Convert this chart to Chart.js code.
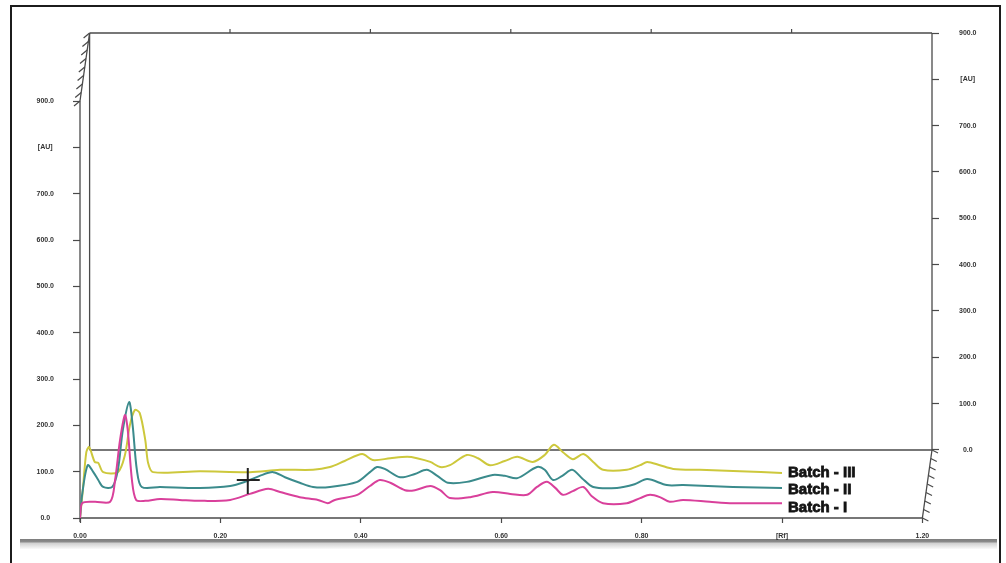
<!DOCTYPE html>
<html>
<head>
<meta charset="utf-8">
<script src="https://cdn.jsdelivr.net/npm/chart.js@4"></script>
<style>
html, body { margin: 0; padding: 0; background: #fff; }
</style>
</head>
<body>
<canvas id="chart" width="1006" height="563"></canvas>
<script>
// tick values and labels
const rfTicks = [0, 0.2, 0.4, 0.6, 0.8, 1.0, 1.2];
const rfLabels = ['0.00', '0.20', '0.40', '0.60', '0.80', '[Rf]', '1.20'];
const auTicks = [0, 100, 200, 300, 400, 500, 600, 700, 800, 900];

// Batch I (magenta)
const rfBatch1 = [0, 0.003, 0.021, 0.043, 0.050, 0.057, 0.064, 0.068, 0.074, 0.080, 0.093, 0.114, 0.142, 0.171, 0.214, 0.242, 0.268, 0.285, 0.313, 0.339, 0.353, 0.363, 0.395, 0.413, 0.427, 0.442, 0.463, 0.477, 0.499, 0.513, 0.527, 0.556, 0.588, 0.613, 0.637, 0.651, 0.665, 0.677, 0.688, 0.702, 0.717, 0.729, 0.745, 0.779, 0.798, 0.812, 0.826, 0.840, 0.859, 0.897, 0.930, 0.969, 1.0];
const auBatch1 = [0, 32, 35, 35, 82, 168, 222, 190, 82, 39, 37, 41, 39, 37, 39, 52, 63, 56, 45, 39, 32, 39, 50, 69, 82, 76, 60, 60, 69, 60, 43, 45, 56, 52, 50, 67, 78, 65, 50, 58, 67, 47, 32, 32, 43, 50, 45, 35, 39, 35, 32, 32, 32];

// Batch II (teal)
const rfBatch2 = [0, 0.003, 0.011, 0.019, 0.026, 0.033, 0.046, 0.054, 0.061, 0.070, 0.075, 0.081, 0.088, 0.114, 0.171, 0.214, 0.235, 0.256, 0.275, 0.292, 0.313, 0.332, 0.356, 0.395, 0.413, 0.423, 0.434, 0.456, 0.477, 0.494, 0.509, 0.524, 0.551, 0.588, 0.605, 0.623, 0.651, 0.662, 0.674, 0.687, 0.701, 0.715, 0.731, 0.765, 0.790, 0.808, 0.836, 0.859, 0.930, 1.0];
const auBatch2 = [0, 50, 114, 99, 82, 67, 67, 104, 190, 250, 200, 104, 67, 67, 65, 69, 78, 91, 99, 88, 76, 67, 67, 78, 99, 110, 106, 88, 95, 104, 91, 76, 78, 93, 91, 86, 110, 104, 82, 91, 104, 86, 67, 65, 73, 84, 71, 71, 67, 65];

// Batch III (yellow)
const rfBatch3 = [0, 0.004, 0.009, 0.013, 0.021, 0.026, 0.033, 0.054, 0.064, 0.071, 0.078, 0.085, 0.093, 0.097, 0.104, 0.171, 0.242, 0.285, 0.332, 0.356, 0.377, 0.402, 0.417, 0.442, 0.466, 0.480, 0.499, 0.513, 0.527, 0.551, 0.567, 0.584, 0.605, 0.623, 0.645, 0.662, 0.675, 0.688, 0.702, 0.717, 0.731, 0.745, 0.779, 0.798, 0.808, 0.826, 0.845, 0.883, 0.940, 1.0];
const auBatch3 = [0, 60, 142, 153, 121, 119, 99, 99, 136, 200, 233, 227, 168, 119, 99, 101, 99, 104, 104, 110, 123, 138, 125, 129, 132, 129, 121, 110, 114, 136, 129, 114, 123, 132, 121, 136, 158, 142, 127, 138, 121, 104, 104, 114, 121, 114, 106, 104, 101, 97];

const batchNames = ['Batch - I', 'Batch - II', 'Batch - III'];
const cursorPoint = { rf: 0.239, au: 82 };

const pts = (xs, ys) => xs.map((x, i) => ({ x: x, y: ys[i] }));
const tickFont = { family: '"Liberation Sans", Arial, sans-serif', size: 7, weight: 'bold' };
const axisGrey = '#4a4a4a';

const boxPlugin = {
    id: 'box',
    beforeDraw(chart) {
        const ctx = chart.ctx;
        ctx.save();
        ctx.fillStyle = '#fff';
        ctx.fillRect(0, 0, chart.width, chart.height);
        // outer frame
        ctx.fillStyle = '#1c1c1c';
        ctx.fillRect(10, 5, 991, 2);
        ctx.fillRect(10, 5, 2, 558);
        ctx.fillRect(999, 5, 2, 558);
        // grey base bar
        const g = ctx.createLinearGradient(0, 539, 0, 549);
        g.addColorStop(0, '#7d7d7d');
        g.addColorStop(0.3, '#8c8c8c');
        g.addColorStop(0.4, '#cfcfcf');
        g.addColorStop(1, '#fafafa');
        ctx.fillStyle = g;
        ctx.fillRect(20, 539, 977, 10);
        ctx.restore();
    },
    beforeDatasetsDraw(chart) {
        const ctx = chart.ctx;
        const x = chart.scales.x, y = chart.scales.y, y2 = chart.scales.y2;
        const x0 = x.getPixelForValue(0), x12 = x.getPixelForValue(1.2);
        const yb = y.getPixelForValue(0), yt = y.getPixelForValue(900);
        const dx = chart.chartArea.right - x12;
        const byb = y2.getPixelForValue(0), byt = y2.getPixelForValue(900);
        ctx.save();
        ctx.strokeStyle = axisGrey;
        ctx.lineWidth = 1.3;
        const line = (a, b, c, d) => { ctx.beginPath(); ctx.moveTo(a, b); ctx.lineTo(c, d); ctx.stroke(); };
        line(x0, yb + 4, x0, yt);               // front left axis
        line(x0, yt, x0 + dx, byt);             // left diagonal
        line(x0 + dx, byt, x0 + dx, byb);       // back left edge
        line(x0 + dx, byt, x12 + dx, byt);      // top edge
        line(x12 + dx, byt, x12 + dx, byb);     // back right axis
        line(x0 + dx, byb, x12 + dx, byb);      // back floor
        line(x0, yb, x12, yb);                  // front floor
        line(x12 + dx, byb, x12, yb);           // right diagonal
        // hatches
        ctx.lineWidth = 1.2;
        for (let i = 0; i <= 8; i++) {
            const t = i / 8;
            const px = x0 + dx * t, py = yt + (byt - yt) * t;
            line(px, py, px - 6, py + 5);
            const qx = x12 + dx - dx * t, qy = byb + (yb - byb) * t;
            line(qx, qy, qx + 6, qy + 3);
        }
        // top ticks on back plane
        ctx.lineWidth = 1.2;
        [0.2, 0.4, 0.6, 0.8, 1.0].forEach(v => {
            const px = x.getPixelForValue(v) + dx;
            line(px, byt, px, byt - 4);
        });
        ctx.restore();
    },
    afterDatasetsDraw(chart) {
        const ctx = chart.ctx;
        const x = chart.scales.x, y = chart.scales.y;
        ctx.save();
        // cursor cross
        const cx = x.getPixelForValue(cursorPoint.rf), cy = y.getPixelForValue(cursorPoint.au);
        ctx.strokeStyle = '#222';
        ctx.lineWidth = 2;
        ctx.beginPath();
        ctx.moveTo(cx, cy - 12); ctx.lineTo(cx, cy + 14);
        ctx.moveTo(cx - 11, cy); ctx.lineTo(cx + 12, cy);
        ctx.stroke();
        // batch labels at line ends
        const dy = [5, 2, 0];
        ctx.font = 'bold 15px "Liberation Sans", Arial, sans-serif';
        ctx.fillStyle = '#141414';
        ctx.strokeStyle = '#141414';
        ctx.lineWidth = 0.8;
        ctx.textBaseline = 'middle';
        chart.data.datasets.forEach((ds, i) => {
            const meta = chart.getDatasetMeta(i);
            const last = meta.data[meta.data.length - 1];
            ctx.fillText(batchNames[i], last.x + 6, last.y + dy[i]);
            ctx.strokeText(batchNames[i], last.x + 6, last.y + dy[i]);
        });
        ctx.restore();
    }
};

new Chart(document.getElementById('chart'), {
    type: 'line',
    data: {
        datasets: [
            { label: batchNames[0], data: pts(rfBatch1, auBatch1), borderColor: '#d9409b' },
            { label: batchNames[1], data: pts(rfBatch2, auBatch2), borderColor: '#3b8b8c' },
            { label: batchNames[2], data: pts(rfBatch3, auBatch3), borderColor: '#cdc83c' }
        ].map(d => Object.assign(d, { borderWidth: 2, pointRadius: 0, tension: 0.3, fill: false }))
    },
    options: {
        responsive: false,
        devicePixelRatio: 1,
        animation: false,
        layout: { padding: { top: 33, left: 0, right: 0, bottom: 0 } },
        plugins: { legend: { display: false }, title: { display: false }, tooltip: { enabled: false } },
        scales: {
            x: {
                type: 'linear', min: 0, max: 852 / 702,
                afterBuildTicks: s => { s.ticks = rfTicks.map(v => ({ value: v })); },
                afterFit: s => { s.height = 45; },
                ticks: { callback: (v, i) => rfLabels[i], font: tickFont, color: '#333', padding: 9, maxRotation: 0, autoSkip: false },
                grid: { drawOnChartArea: false, tickLength: 5, tickColor: axisGrey, tickWidth: 1.2 },
                border: { display: false }
            },
            y: {
                position: 'left', min: 0, max: 485 / 0.463333,
                afterBuildTicks: s => { s.ticks = auTicks.map(v => ({ value: v })); },
                afterFit: s => { s.width = 80; },
                ticks: { callback: v => v === 800 ? '[AU]' : v.toFixed(1), font: tickFont, color: '#333', padding: 19, crossAlign: 'center' },
                grid: { drawOnChartArea: false, tickLength: 7, tickColor: axisGrey, tickWidth: 1.2 },
                border: { display: false }
            },
            y2: {
                position: 'right', min: -68 / 0.463333, max: 900,
                afterBuildTicks: s => { s.ticks = auTicks.map(v => ({ value: v })); },
                afterFit: s => { s.width = 74; },
                ticks: { callback: v => v === 800 ? '[AU]' : v.toFixed(1), font: tickFont, color: '#333', padding: 20, crossAlign: 'center' },
                grid: { drawOnChartArea: false, tickLength: 7, tickColor: axisGrey, tickWidth: 1.2 },
                border: { display: false }
            }
        }
    },
    plugins: [boxPlugin]
});
</script>
</body>
</html>
